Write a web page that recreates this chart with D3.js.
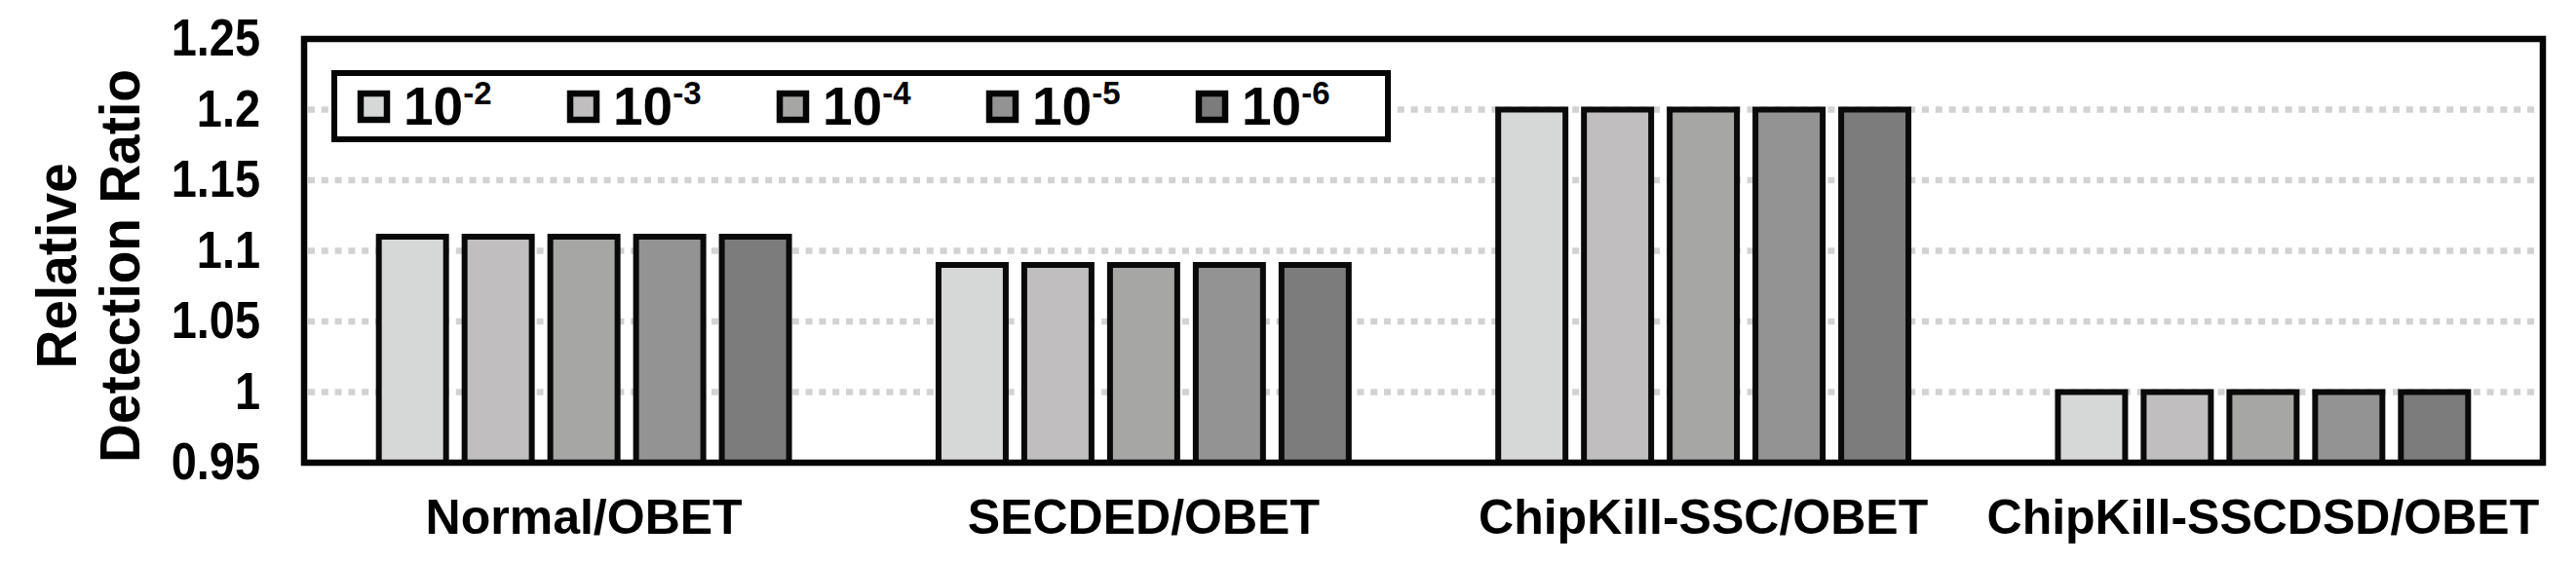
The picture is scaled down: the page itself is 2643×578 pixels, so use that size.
<!DOCTYPE html>
<html>
<head>
<meta charset="utf-8">
<script src="https://cdn.jsdelivr.net/npm/d3@7"></script>
<style>
  html, body { margin: 0; padding: 0; background: #ffffff; }
  svg { display: block; }
  text { font-family: "Liberation Sans", Arial, sans-serif; font-weight: bold; fill: #000; }
</style>
</head>
<body>
<svg id="chart" width="2643" height="578"></svg>
<script>
// ---- data ----
const categories = ["Normal/OBET", "SECDED/OBET", "ChipKill-SSC/OBET", "ChipKill-SSCDSD/OBET"];
const seriesNames = ["1e-2", "1e-3", "1e-4", "1e-5", "1e-6"];
const seriesExponents = ["-2", "-3", "-4", "-5", "-6"];
const values1e2 = [1.11, 1.09, 1.20, 1.00];
const values1e3 = [1.11, 1.09, 1.20, 1.00];
const values1e4 = [1.11, 1.09, 1.20, 1.00];
const values1e5 = [1.11, 1.09, 1.20, 1.00];
const values1e6 = [1.11, 1.09, 1.20, 1.00];
const seriesColors = ["#d6d8d7", "#c0bebf", "#a6a6a5", "#939393", "#7b7c7b"];
const yTickValues = [0.95, 1, 1.05, 1.1, 1.15, 1.2, 1.25];
const yTickLabels = ["0.95", "1", "1.05", "1.1", "1.15", "1.2", "1.25"];
const gridValues = [1, 1.05, 1.1, 1.15, 1.2];
const yTitleLines = ["Relative", "Detection Ratio"];

const seriesValues = [values1e2, values1e3, values1e4, values1e5, values1e6];

// ---- layout ----
const plot = { left: 312, right: 2609, top: 40, bottom: 475 };
const svg = d3.select("#chart");
const FONT = '"Liberation Sans", Arial, sans-serif';

const y = d3.scaleLinear().domain([0.95, 1.25]).range([plot.bottom, plot.top]);
const x0 = d3.scaleBand().domain(categories).range([plot.left, plot.right])
  .paddingInner(0.234).paddingOuter(0.117);
const x1 = d3.scaleBand().domain(seriesNames).range([0, x0.bandwidth()])
  .paddingInner(0.216).paddingOuter(0.108);
const color = d3.scaleOrdinal().domain(seriesNames).range(seriesColors);

// gridlines
svg.append("g").selectAll("line").data(gridValues).join("line")
  .attr("x1", plot.left + 4).attr("x2", plot.right - 4)
  .attr("y1", d => y(d)).attr("y2", d => y(d))
  .attr("stroke", "#d2d2d2").attr("stroke-width", 6.5)
  .attr("stroke-dasharray", "7,6.8");

// bars
const groups = svg.append("g").selectAll("g").data(categories).join("g")
  .attr("transform", d => `translate(${x0(d)},0)`);
groups.selectAll("rect").data((c, ci) => seriesNames.map((s, si) => ({ s, v: seriesValues[si][ci] })))
  .join("rect")
  .attr("x", d => x1(d.s))
  .attr("width", x1.bandwidth())
  .attr("y", d => y(d.v))
  .attr("height", d => y(0.95) - y(d.v))
  .attr("fill", d => color(d.s))
  .attr("stroke", "#0a0a0a").attr("stroke-width", 6);

// plot frame
svg.append("rect")
  .attr("x", plot.left).attr("y", plot.top)
  .attr("width", plot.right - plot.left).attr("height", plot.bottom - plot.top)
  .attr("fill", "none").attr("stroke", "#050505").attr("stroke-width", 6.5);

// y axis labels (slightly condensed, like the original)
const tickSx = 0.885;
const yAxis = d3.axisLeft(y).tickValues(yTickValues)
  .tickFormat((d, i) => yTickLabels[i]).tickSize(0).tickPadding(45);
const gy = svg.append("g").attr("transform", `translate(${plot.left},0)`).call(yAxis);
gy.select(".domain").remove();
gy.selectAll("text").style("font-size", "53px").style("font-family", FONT)
  .style("font-weight", "bold").attr("fill", "#000")
  .attr("x", -45 / tickSx).attr("transform", `scale(${tickSx},1)`);

// x axis labels
const xAxis = d3.axisBottom(x0).tickSize(0).tickPadding(37);
const gx = svg.append("g").attr("transform", `translate(0,${plot.bottom})`).call(xAxis);
gx.select(".domain").remove();
gx.selectAll("text").style("font-size", "50px").style("font-family", FONT)
  .style("font-weight", "bold").attr("fill", "#000");

// y title
const yTitle = svg.append("g").attr("transform", "translate(0,273)");
yTitleLines.forEach((t, i) => {
  yTitle.append("text")
    .attr("transform", `translate(${78 + i * 65},0) rotate(-90) scale(0.95,1)`)
    .attr("text-anchor", "middle")
    .style("font-size", "58px")
    .text(t);
});

// legend
const legend = svg.append("g");
legend.append("rect").attr("x", 343).attr("y", 75).attr("width", 1081).attr("height", 68)
  .attr("fill", "#fff").attr("stroke", "#050505").attr("stroke-width", 6);
const items = legend.selectAll("g.item").data(seriesNames).join("g").attr("class", "item")
  .attr("transform", (d, i) => `translate(${367 + i * 215},0)`);
items.append("rect").attr("x", 3).attr("y", 96).attr("width", 27).attr("height", 27)
  .attr("fill", d => color(d)).attr("stroke", "#050505").attr("stroke-width", 6.5);
const lt = items.append("text").attr("x", 47).attr("y", 128).style("font-size", "55px");
lt.append("tspan").text("10");
lt.append("tspan").attr("dy", -21).style("font-size", "33px").text((d, i) => seriesExponents[i]);
</script>
</body>
</html>
